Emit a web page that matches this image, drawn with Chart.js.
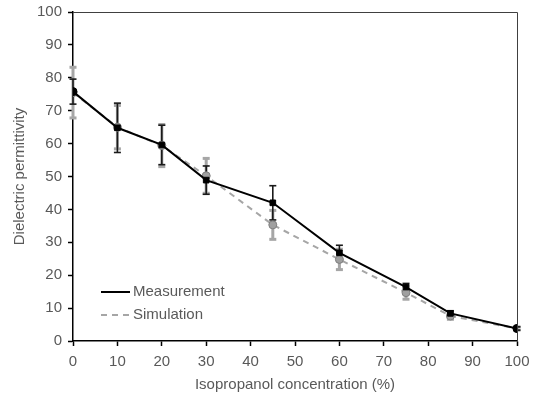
<!DOCTYPE html>
<html>
<head>
<meta charset="utf-8">
<script src="https://cdn.jsdelivr.net/npm/chart.js@4.4.0/dist/chart.umd.min.js"></script>
<style>
  html, body { margin: 0; padding: 0; background: #fff; }
  #wrap { width: 543px; height: 401px; }
</style>
</head>
<body>
<div id="wrap"><canvas id="chart" width="543" height="401"></canvas></div>
<script>
const CONC = [0, 10, 20, 30, 45, 60, 75, 85, 100];
const MEASURED = [75.8, 64.8, 59.6, 48.9, 42.0, 26.8, 16.4, 8.4, 3.8];
const MEASURED_ERR = [3.8, 7.5, 6.0, 4.3, 5.2, 2.3, 1.1, 0.8, 0.5];
const SIMULATED = [75.5, 65.0, 59.4, 50.2, 35.3, 24.8, 14.7, 7.6, 3.8];
const SIMULATED_ERR = [7.7, 6.6, 6.4, 5.3, 4.4, 3.1, 2.0, 1.0, 0.5];
const X_TICKS = [0, 10, 20, 30, 40, 50, 60, 70, 80, 90, 100];
const Y_TICKS = [0, 10, 20, 30, 40, 50, 60, 70, 80, 90, 100];

const FONT = { family: "'Liberation Sans', Arial, sans-serif", size: 15 };
const TEXT = "#595959";
const GREY = "#a6a6a6";

const pts = (ys) => CONC.map((x, i) => ({ x, y: ys[i] }));

// error bars drawn through the chart's scales, under the lines
const errorBars = {
  id: "errorBars",
  beforeDatasetsDraw(chart) {
    const { ctx, scales: { x, y } } = chart;
    const draw = (vals, errs, color, lw, capH) => {
      ctx.save();
      ctx.strokeStyle = color;
      ctx.fillStyle = color;
      ctx.lineWidth = lw;
      CONC.forEach((c, i) => {
        const px = x.getPixelForValue(c);
        const top = y.getPixelForValue(vals[i] + errs[i]);
        const bot = y.getPixelForValue(vals[i] - errs[i]);
        ctx.beginPath();
        ctx.moveTo(px, top);
        ctx.lineTo(px, bot);
        ctx.stroke();
        ctx.fillRect(px - 3.5, top - capH / 2, 7, capH);
        ctx.fillRect(px - 3.5, bot - capH / 2, 7, capH);
      });
      ctx.restore();
    };
    draw(SIMULATED, SIMULATED_ERR, GREY, 3, 3);
    draw(MEASURED, MEASURED_ERR, "#1a1a1a", 1.6, 1.6);
  },
  afterDraw(chart) {
    const { ctx, chartArea: a } = chart;
    ctx.save();
    // top and right frame
    ctx.strokeStyle = "#404040";
    ctx.lineWidth = 1;
    ctx.beginPath();
    ctx.moveTo(a.left, a.top + 0.5);
    ctx.lineTo(a.right + 0.5, a.top + 0.5);
    ctx.lineTo(a.right + 0.5, a.bottom);
    ctx.stroke();
    // legend inside the plot
    const lx = a.left + 28, ly = a.bottom - 49;
    chart.data.datasets.forEach((ds, i) => {
      const yy = ly + i * 23;
      ctx.strokeStyle = ds.borderColor;
      ctx.lineWidth = ds.borderWidth;
      ctx.setLineDash(ds.borderDash || []);
      ctx.beginPath();
      ctx.moveTo(lx, yy);
      ctx.lineTo(lx + 29, yy);
      ctx.stroke();
      ctx.setLineDash([]);
      ctx.fillStyle = TEXT;
      ctx.font = `${FONT.size}px ${FONT.family}`;
      ctx.textBaseline = "middle";
      ctx.fillText(ds.label, lx + 32, yy);
    });
    ctx.restore();
  },
};

new Chart(document.getElementById("chart"), {
  type: "scatter",
  data: {
    datasets: [
      {
        label: "Measurement",
        data: pts(MEASURED),
        showLine: true,
        borderColor: "#000",
        borderWidth: 2,
        pointStyle: CONC.map((c, i) => (i === 0 || i === CONC.length - 1 ? "circle" : "rect")),
        pointRadius: 4,
        pointBackgroundColor: "#000",
        pointBorderColor: "#000",
        pointBorderWidth: 1,
        order: 0,
      },
      {
        label: "Simulation",
        data: pts(SIMULATED),
        showLine: true,
        borderColor: GREY,
        borderWidth: 2,
        borderDash: [6, 5],
        pointStyle: "circle",
        pointRadius: 4,
        pointBackgroundColor: "#a0a0a0",
        pointBorderColor: "#7f7f7f",
        pointBorderWidth: 1,
        order: 1,
      },
    ],
  },
  options: {
    responsive: false,
    animation: false,
    events: [],
    layout: { padding: { left: 0, top: 12, right: 26, bottom: 0 } },
    plugins: { legend: { display: false }, tooltip: { enabled: false } },
    scales: {
      x: {
        type: "linear",
        min: 0,
        max: 100,
        afterBuildTicks: (s) => { s.ticks = X_TICKS.map((v) => ({ value: v })); },
        afterFit: (s) => { s.height = 60; s.paddingLeft = 0; s.paddingRight = 0; },
        grid: { drawOnChartArea: false, drawTicks: true, tickLength: 5, tickColor: "#000", tickWidth: 1.5 },
        border: { color: "#000", width: 1.5 },
        ticks: { color: TEXT, font: FONT, padding: 7, maxRotation: 0 },
        title: { display: true, text: "Isopropanol concentration (%)", color: TEXT, font: FONT, padding: { top: 0, bottom: 7 } },
      },
      y: {
        type: "linear",
        min: 0,
        max: 100,
        afterBuildTicks: (s) => { s.ticks = Y_TICKS.map((v) => ({ value: v })); },
        afterFit: (s) => { s.width = 73; s.paddingTop = 0; s.paddingBottom = 0; },
        grid: { drawOnChartArea: false, drawTicks: true, tickLength: 5, tickColor: "#000", tickWidth: 1.5 },
        border: { color: "#000", width: 1.5 },
        ticks: { color: TEXT, font: FONT, padding: 6 },
        title: { display: true, text: "Dielectric permittivity", color: TEXT, font: FONT, padding: { top: 11, bottom: 4 } },
      },
    },
  },
  plugins: [errorBars],
});
</script>
</body>
</html>
